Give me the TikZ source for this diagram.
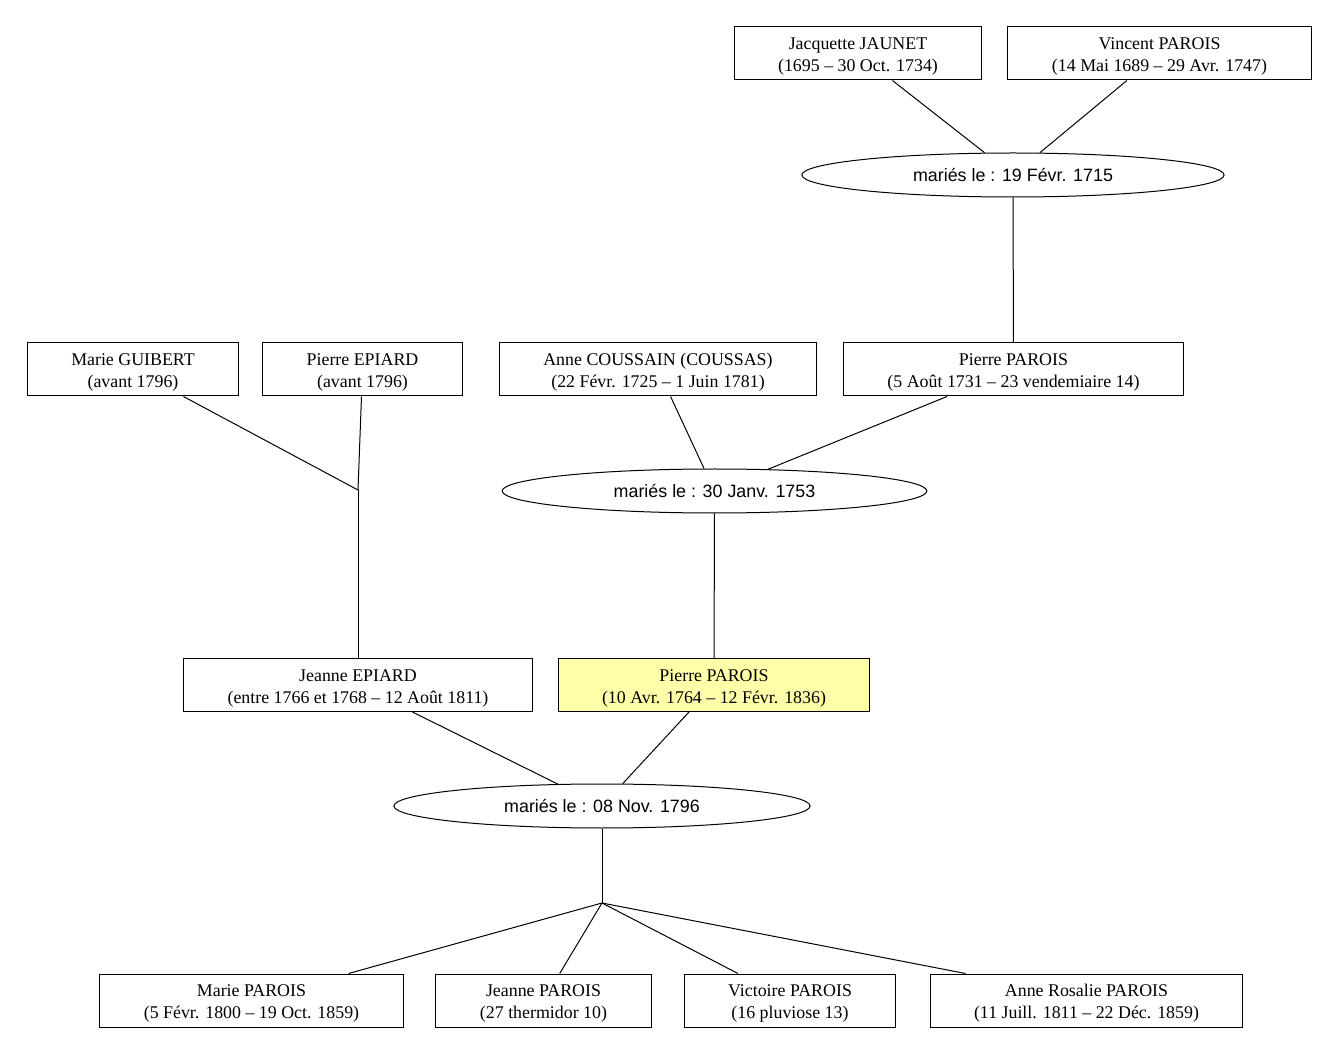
\documentclass[tikz,border=0pt]{standalone}
\usepackage{fontspec}
\setmainfont{Liberation Serif}
\newfontfamily\unionfont{Liberation Sans}
\usetikzlibrary{shapes.geometric}
\definecolor{rootyellow}{RGB}{255,255,170}
\newcommand{\who}[2]{\rule{0pt}{13.8pt}#1\\#2}
\tikzset{
	person/.style={draw, rectangle, align=center, line width=0.75pt,
		inner xsep=33pt, inner ysep=0pt, minimum height=39.75pt,
		font=\fontsize{13.4}{16.5}\selectfont},
	union/.style={draw, ellipse, line width=0.75pt, inner xsep=37pt,
		inner ysep=0pt, minimum height=33pt,
		font=\unionfont\fontsize{13.4}{16}\selectfont},
	link/.style={line width=0.75pt}
}
\begin{document}
\begin{tikzpicture}[x=0.75pt,y=-0.75pt]
	\useasboundingbox (0,0) rectangle (1340,1055);

	% generation 1
	\node[person] (jaunet) at (858,53.5) {\who{Jacquette JAUNET}{(1695 -- 30 Oct. 1734)}};
	\node[person] (vincent) at (1159.5,53.5) {\who{Vincent PAROIS}{(14 Mai 1689 -- 29 Avr. 1747)}};
	\node[union] (m1715) at (1013,175) {mariés le : 19 Févr. 1715};

	% generation 2
	\node[person] (guibert) at (133,369.5) {\who{Marie GUIBERT}{(avant 1796)}};
	\node[person] (epiard) at (362.5,369.5) {\who{Pierre EPIARD}{(avant 1796)}};
	\node[person] (anne) at (658,369.5) {\who{Anne COUSSAIN (COUSSAS)}{(22 Févr. 1725 -- 1 Juin 1781)}};
	\node[person] (pierreA) at (1013.5,369.5) {\who{Pierre PAROIS}{(5 Août 1731 -- 23 vendemiaire 14)}};
	\coordinate (jEpiard) at (358,490);
	\node[union] (m1753) at (714.5,491) {mariés le : 30 Janv. 1753};

	% generation 3
	\node[person] (jeanneE) at (358,685) {\who{Jeanne EPIARD}{(entre 1766 et 1768 -- 12 Août 1811)}};
	\node[person, fill=rootyellow] (pierreB) at (714,685) {\who{Pierre PAROIS}{(10 Avr. 1764 -- 12 Févr. 1836)}};
	\node[union] (m1796) at (602,806) {mariés le : 08 Nov. 1796};
	\coordinate (jKids) at (602,903);

	% children
	\node[person] (marie) at (251.5,1000.5) {\who{Marie PAROIS}{(5 Févr. 1800 -- 19 Oct. 1859)}};
	\node[person] (jeanne) at (543.5,1000.5) {\who{Jeanne PAROIS}{(27 thermidor 10)}};
	\node[person] (victoire) at (790,1000.5) {\who{Victoire PAROIS}{(16 pluviose 13)}};
	\node[person] (rosalie) at (1086.5,1000.5) {\who{Anne Rosalie PAROIS}{(11 Juill. 1811 -- 22 Déc. 1859)}};

	\draw[link] (jaunet) -- (m1715);
	\draw[link] (vincent) -- (m1715);
	\draw[link] (m1715) -- (pierreA);

	\draw[link] (guibert) -- (jEpiard);
	\draw[link] (epiard) -- (jEpiard);
	\draw[link] (jEpiard) -- (jeanneE);
	\draw[link] (anne) -- (m1753);
	\draw[link] (pierreA) -- (m1753);
	\draw[link] (m1753) -- (pierreB);

	\draw[link] (jeanneE) -- (m1796);
	\draw[link] (pierreB) -- (m1796);
	\draw[link] (m1796) -- (jKids);
	\foreach \kid in {marie,jeanne,victoire}
		\draw[link] (jKids) -- (\kid);
	\draw[link] (jKids) -- ([xshift=27pt]rosalie.north west);
\end{tikzpicture}
\end{document}
